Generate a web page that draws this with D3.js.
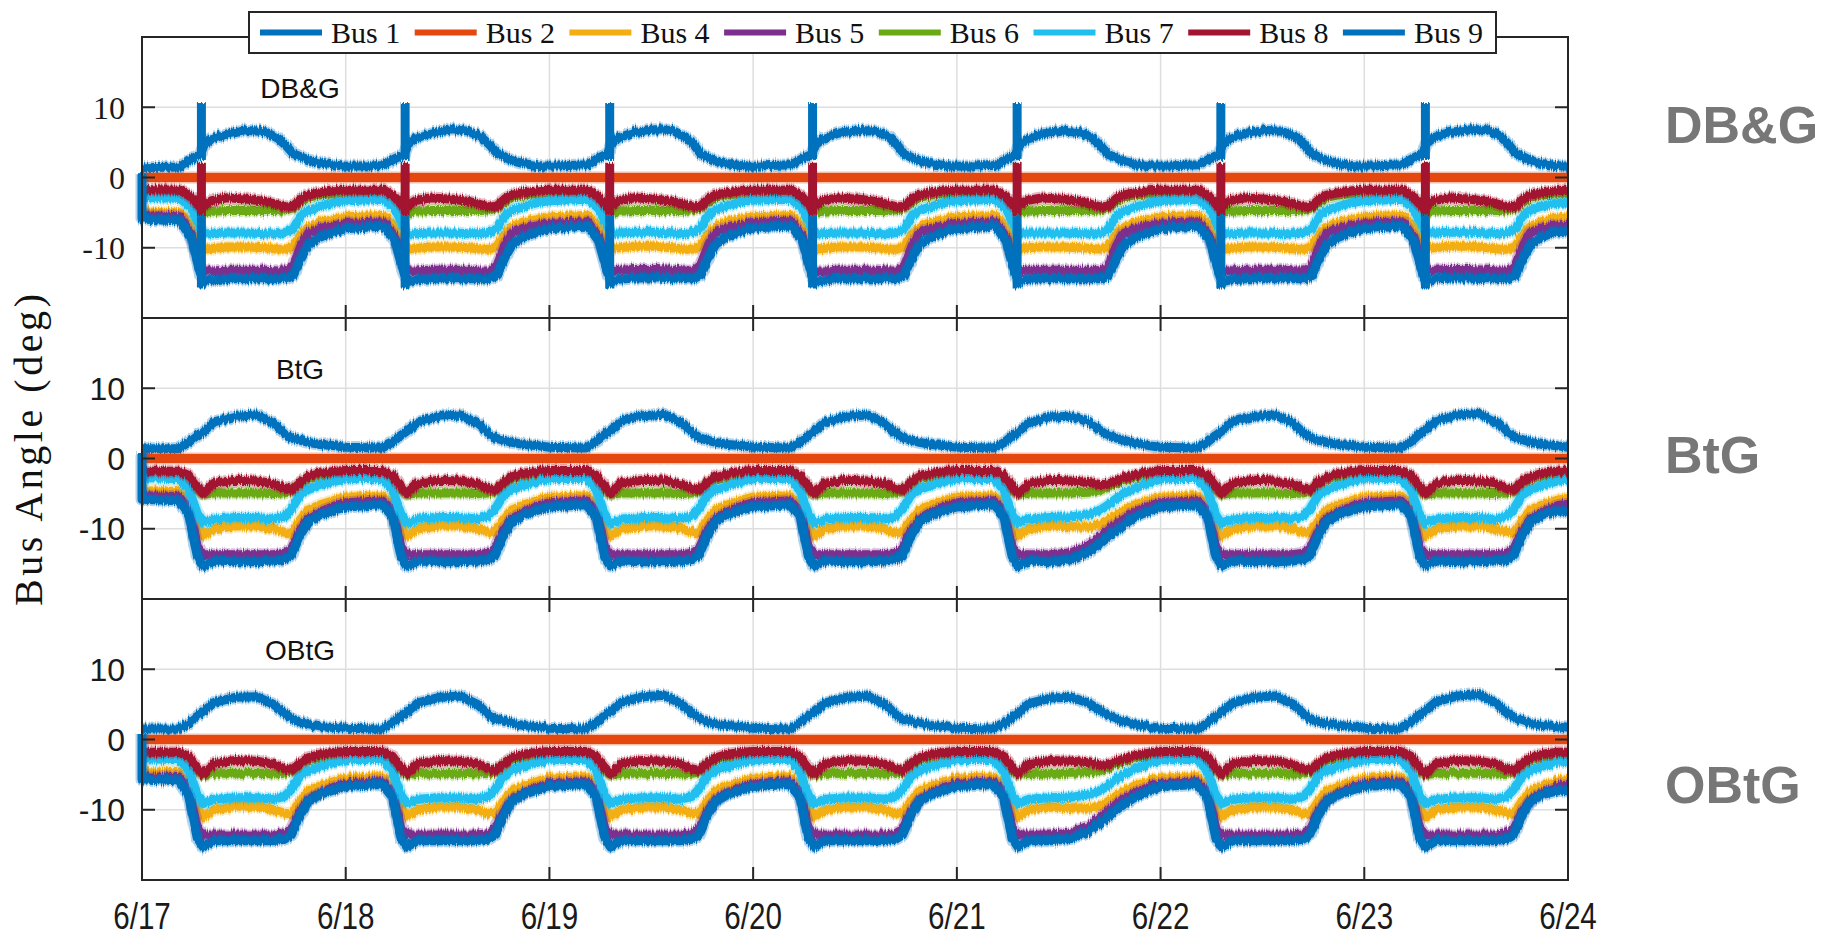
<!DOCTYPE html>
<html>
<head>
<meta charset="utf-8">
<script src="https://cdn.jsdelivr.net/npm/d3@7"></script>
<style>
  html, body { margin: 0; padding: 0; background: #fff; }
  svg { display: block; }
</style>
</head>
<body>
<svg id="chart" width="1835" height="936"></svg>
<script>
// ---- categories, labels, ticks ----
const busNames = ["Bus 1", "Bus 2", "Bus 4", "Bus 5", "Bus 6", "Bus 7", "Bus 8", "Bus 9"];
const panelNames = ["DB&G", "BtG", "OBtG"];
const dayLabels = ["6/17", "6/18", "6/19", "6/20", "6/21", "6/22", "6/23", "6/24"];
const yTickValues = [-10, 0, 10];
const yDomain = [-20, 20];

// Bus 2 is the reference bus: its angle stays at 0 for the whole week
const bus2Hours = [0, 168];
const bus2Angle = [0, 0];

// ---- DB&G : sample times (hour of day) and bus angles (deg), one row per day ----
const dbgClock = [0, 4.5, 5.8, 6.9, 7.3, 8.2, 10, 12.5, 14.5, 16, 17, 17.8, 18.8, 19.6, 20.8, 22.5, 24];
const dbgBus1 = [
  [1.4, 1.5, 2.6, 3.3, 4.6, 5.5, 6.2, 6.7, 6.5, 5.6, 4.5, 3.4, 2.9, 2.5, 2.1, 1.8],
  [1.6, 1.7, 2.7, 3.3, 4.7, 5.6, 6.3, 6.8, 6.6, 5.7, 4.6, 3.5, 2.9, 2.4, 2.0, 1.7],
  [1.6, 1.8, 2.8, 3.4, 4.8, 5.7, 6.4, 6.8, 6.7, 5.8, 4.7, 3.4, 2.8, 2.3, 2.0, 1.7],
  [1.6, 1.8, 2.7, 3.3, 4.6, 5.5, 6.3, 6.7, 6.6, 5.8, 4.6, 3.3, 2.8, 2.4, 2.0, 1.7],
  [1.6, 1.7, 2.6, 3.2, 4.5, 5.4, 6.2, 6.6, 6.4, 5.6, 4.4, 3.3, 2.8, 2.3, 2.0, 1.7],
  [1.6, 1.8, 2.7, 3.3, 4.7, 5.6, 6.3, 6.7, 6.6, 5.7, 4.6, 3.4, 2.8, 2.4, 2.0, 1.7],
  [1.6, 1.8, 2.8, 3.4, 4.8, 5.7, 6.4, 6.8, 6.8, 5.9, 4.7, 3.5, 2.9, 2.4, 2.0, 1.7, 1.6]
];
const dbgBus4 = [
  [-4.9, -5.0, -6.8, -9.6, -10.2, -10.1, -9.9, -9.9, -10.0, -10.2, -10.2, -9.8, -8.0, -7.1, -6.4, -6.0],
  [-5.6, -5.4, -7.0, -9.7, -10.2, -10.1, -9.9, -9.9, -10.0, -10.2, -10.2, -9.8, -8.0, -7.0, -6.4, -6.0],
  [-5.6, -5.4, -7.0, -9.6, -10.1, -10.0, -9.8, -9.8, -10.0, -10.2, -10.2, -9.7, -7.9, -7.0, -6.3, -5.9],
  [-5.6, -5.4, -7.0, -9.7, -10.2, -10.1, -9.9, -9.9, -10.0, -10.2, -10.2, -9.8, -8.0, -7.1, -6.4, -6.0],
  [-5.6, -5.4, -7.0, -9.6, -10.2, -10.0, -9.9, -9.9, -10.0, -10.1, -10.2, -9.8, -8.1, -7.2, -6.5, -6.0],
  [-5.6, -5.4, -7.0, -9.7, -10.2, -10.1, -9.9, -9.9, -10.0, -10.2, -10.2, -9.8, -8.0, -7.1, -6.4, -6.0],
  [-5.6, -5.4, -7.0, -9.6, -10.1, -10.0, -9.8, -9.8, -10.0, -10.2, -10.2, -9.8, -8.0, -7.0, -6.3, -5.8, -5.6]
];
const dbgBus5 = [
  [-5.4, -5.6, -8.2, -12.8, -13.3, -13.3, -13.2, -13.2, -13.2, -13.3, -13.3, -12.6, -9.5, -7.9, -7.3, -6.9],
  [-6.5, -6.3, -8.5, -12.8, -13.3, -13.3, -13.2, -13.2, -13.2, -13.3, -13.3, -12.6, -9.5, -7.9, -7.3, -6.9],
  [-6.5, -6.3, -8.5, -12.7, -13.2, -13.2, -13.1, -13.1, -13.2, -13.3, -13.3, -12.5, -9.4, -7.8, -7.2, -6.8],
  [-6.4, -6.2, -8.4, -12.8, -13.3, -13.3, -13.2, -13.2, -13.2, -13.3, -13.3, -12.6, -9.5, -7.9, -7.3, -6.9],
  [-6.5, -6.3, -8.5, -12.7, -13.3, -13.2, -13.2, -13.2, -13.2, -13.2, -13.3, -12.7, -9.7, -8.0, -7.4, -6.9],
  [-6.5, -6.3, -8.5, -12.8, -13.3, -13.3, -13.2, -13.2, -13.2, -13.3, -13.3, -12.6, -9.5, -7.9, -7.3, -6.9],
  [-6.5, -6.3, -8.5, -12.7, -13.2, -13.2, -13.1, -13.1, -13.2, -13.3, -13.3, -12.6, -9.5, -7.8, -7.2, -6.9, -6.8]
];
const dbgBus6 = [
  [-2.2, -2.3, -3.5, -4.8, -4.9, -4.8, -4.7, -4.7, -4.7, -4.7, -4.6, -4.3, -3.4, -2.8, -2.5, -2.3],
  [-2.4, -2.4, -3.5, -4.8, -4.9, -4.8, -4.7, -4.7, -4.7, -4.7, -4.6, -4.3, -3.4, -2.8, -2.5, -2.3],
  [-2.4, -2.4, -3.5, -4.8, -4.9, -4.8, -4.7, -4.7, -4.7, -4.7, -4.6, -4.3, -3.4, -2.8, -2.5, -2.3],
  [-2.4, -2.4, -3.5, -4.8, -4.9, -4.8, -4.7, -4.7, -4.7, -4.7, -4.6, -4.3, -3.4, -2.8, -2.5, -2.3],
  [-2.4, -2.4, -3.5, -4.8, -4.9, -4.8, -4.7, -4.7, -4.7, -4.7, -4.6, -4.3, -3.4, -2.8, -2.5, -2.3],
  [-2.4, -2.4, -3.5, -4.8, -4.9, -4.8, -4.7, -4.7, -4.7, -4.7, -4.6, -4.3, -3.4, -2.8, -2.5, -2.3],
  [-2.4, -2.4, -3.5, -4.8, -4.9, -4.8, -4.7, -4.7, -4.7, -4.7, -4.6, -4.3, -3.4, -2.8, -2.5, -2.3, -2.3]
];
const dbgBus7 = [
  [-2.8, -3.0, -4.3, -7.2, -8.0, -8.0, -7.9, -7.9, -8.0, -8.0, -7.8, -7.3, -5.3, -4.7, -4.2, -3.6],
  [-3.3, -3.1, -4.4, -7.2, -8.0, -8.0, -7.9, -7.9, -8.0, -8.0, -7.8, -7.3, -5.3, -4.7, -4.2, -3.6],
  [-3.3, -3.1, -4.4, -7.1, -7.9, -7.9, -7.8, -7.8, -7.9, -8.0, -7.8, -7.2, -5.2, -4.6, -4.1, -3.5],
  [-3.2, -3.1, -4.4, -7.2, -8.0, -8.0, -7.9, -7.9, -8.0, -8.0, -7.8, -7.3, -5.3, -4.7, -4.2, -3.6],
  [-3.3, -3.1, -4.4, -7.1, -8.0, -7.9, -7.9, -7.9, -8.0, -8.0, -7.9, -7.4, -5.5, -4.8, -4.3, -3.7],
  [-3.3, -3.1, -4.4, -7.2, -8.0, -8.0, -7.9, -7.9, -8.0, -8.0, -7.8, -7.3, -5.3, -4.7, -4.2, -3.6],
  [-3.3, -3.1, -4.4, -7.1, -7.9, -7.9, -7.8, -7.8, -7.9, -8.0, -7.8, -7.3, -5.3, -4.6, -4.1, -3.7, -3.6]
];
const dbgBus8 = [
  [-1.7, -1.8, -2.8, -4.3, -4.0, -3.3, -2.9, -3.1, -3.4, -3.9, -4.2, -4.1, -3.0, -2.5, -2.2, -1.9],
  [-1.8, -1.8, -2.8, -4.3, -4.0, -3.3, -2.9, -3.1, -3.4, -3.9, -4.2, -4.1, -3.0, -2.5, -2.2, -1.9],
  [-1.8, -1.8, -2.8, -4.3, -4.0, -3.3, -2.9, -3.1, -3.4, -3.9, -4.2, -4.1, -3.0, -2.5, -2.2, -1.9],
  [-1.8, -1.8, -2.8, -4.3, -4.0, -3.3, -2.9, -3.1, -3.4, -3.9, -4.2, -4.1, -3.0, -2.5, -2.2, -1.9],
  [-1.8, -1.8, -2.8, -4.3, -4.0, -3.3, -2.9, -3.1, -3.4, -3.9, -4.2, -4.1, -3.0, -2.5, -2.2, -1.9],
  [-1.8, -1.8, -2.8, -4.3, -4.0, -3.3, -2.9, -3.1, -3.4, -3.9, -4.2, -4.1, -3.0, -2.5, -2.2, -1.9],
  [-1.8, -1.8, -2.8, -4.3, -4.0, -3.3, -2.9, -3.1, -3.4, -3.9, -4.2, -4.1, -3.0, -2.5, -2.2, -1.9, -1.8]
];
const dbgBus9 = [
  [-5.9, -6.2, -8.6, -13.8, -14.8, -14.6, -14.4, -14.4, -14.4, -14.4, -14.4, -14.0, -11.3, -9.6, -8.6, -7.8],
  [-7.3, -6.9, -9.0, -13.9, -14.8, -14.6, -14.4, -14.4, -14.4, -14.4, -14.4, -14.0, -11.3, -9.6, -8.6, -7.8],
  [-7.3, -6.9, -9.0, -13.8, -14.7, -14.5, -14.3, -14.3, -14.4, -14.4, -14.4, -13.9, -11.2, -9.5, -8.5, -7.7],
  [-7.2, -6.9, -9.0, -13.9, -14.8, -14.6, -14.4, -14.4, -14.4, -14.4, -14.4, -14.0, -11.3, -9.6, -8.6, -7.8],
  [-7.3, -6.9, -9.0, -13.8, -14.8, -14.5, -14.4, -14.4, -14.4, -14.4, -14.4, -14.1, -11.5, -9.8, -8.7, -7.9],
  [-7.3, -6.9, -9.0, -13.9, -14.8, -14.6, -14.4, -14.4, -14.4, -14.4, -14.4, -14.0, -11.3, -9.6, -8.6, -7.8],
  [-7.3, -6.9, -9.0, -13.8, -14.7, -14.5, -14.3, -14.3, -14.4, -14.4, -14.4, -14.0, -11.3, -9.6, -8.5, -7.8, -7.6]
];
// angle at the very first instant (before the first row value)
const dbgStart = [1.4, 0, -4.9, -5.4, -2.2, -2.8, -1.7, 0.6];
// daily switching transients: hour of the week and [from, to] angle
const dbgSpikeHours = [7.0, 31.0, 55.1, 79.0, 103.1, 127.1, 151.2];
const dbgSpikeBus1 = [[2.5, 10.6], [2.5, 10.6], [2.5, 10.6], [2.5, 10.6], [2.5, 10.6], [2.5, 10.6], [2.5, 10.6]];
const dbgSpikeBus8 = [[2.1, -5.4], [2.1, -5.4], [2.1, -5.4], [2.1, -5.4], [2.1, -5.4], [2.1, -5.4], [2.1, -5.4]];
const dbgSpikeBus9 = [[-5.4, -15.8], [-5.4, -15.8], [-5.4, -15.8], [-5.4, -15.8], [-5.4, -15.8], [-5.4, -15.8], [-5.4, -15.8]];

// ---- BtG ----
const btgClock = [0, 4.3, 5.5, 6.5, 7.2, 8.5, 11, 13.5, 15.5, 16.8, 17.6, 18.6, 19.6, 21, 22.8, 24];
const btgBus1 = [
  [1.4, 1.4, 2.3, 3.3, 3.8, 5.2, 6.0, 6.2, 5.0, 3.6, 2.9, 2.6, 2.3, 2.0, 1.8],
  [1.6, 1.5, 2.3, 3.3, 3.9, 5.2, 6.0, 6.2, 5.0, 3.6, 2.9, 2.6, 2.3, 2.0, 1.8],
  [1.6, 1.5, 2.4, 3.4, 4.0, 5.3, 6.1, 6.3, 5.1, 3.7, 3.0, 2.6, 2.3, 2.0, 1.8],
  [1.6, 1.5, 2.3, 3.3, 3.9, 5.2, 6.0, 6.2, 5.0, 3.6, 2.9, 2.6, 2.3, 2.0, 1.8],
  [1.6, 1.5, 2.2, 3.2, 3.8, 5.1, 5.9, 6.0, 5.2, 4.2, 3.5, 3.0, 2.6, 2.2, 1.8],
  [1.6, 1.5, 2.3, 3.3, 3.9, 5.2, 6.0, 6.2, 5.1, 3.7, 3.0, 2.6, 2.3, 2.0, 1.8],
  [1.6, 1.5, 2.4, 3.5, 4.1, 5.4, 6.2, 6.4, 5.2, 3.8, 3.1, 2.7, 2.3, 2.0, 1.8, 1.6]
];
const btgBus4 = [
  [-4.6, -4.7, -6.2, -9.8, -11.0, -10.0, -9.6, -9.6, -10.0, -10.5, -10.6, -8.8, -7.3, -6.6, -5.9],
  [-5.5, -5.3, -6.6, -9.9, -11.0, -10.0, -9.6, -9.6, -10.0, -10.5, -10.6, -8.8, -7.3, -6.6, -5.9],
  [-5.5, -5.3, -6.6, -9.9, -11.0, -10.0, -9.6, -9.6, -10.0, -10.5, -10.6, -8.8, -7.3, -6.6, -5.9],
  [-5.5, -5.3, -6.6, -9.9, -11.0, -10.0, -9.6, -9.6, -10.0, -10.5, -10.6, -8.8, -7.3, -6.6, -5.9],
  [-5.5, -5.3, -6.6, -9.9, -11.0, -10.0, -9.6, -9.7, -9.8, -9.5, -9.0, -8.2, -7.4, -6.6, -5.9],
  [-5.5, -5.3, -6.6, -9.9, -11.0, -10.0, -9.6, -9.6, -10.0, -10.5, -10.6, -8.8, -7.3, -6.6, -5.9],
  [-5.5, -5.3, -6.6, -9.9, -11.0, -10.0, -9.6, -9.6, -10.0, -10.5, -10.6, -8.8, -7.3, -6.6, -5.9, -5.7]
];
const btgBus5 = [
  [-5.3, -5.4, -7.0, -12.5, -13.7, -13.7, -13.7, -13.7, -13.7, -13.5, -12.9, -10.3, -8.6, -7.6, -6.7],
  [-6.3, -6.0, -7.4, -12.6, -13.7, -13.7, -13.7, -13.7, -13.7, -13.5, -12.9, -10.3, -8.6, -7.6, -6.7],
  [-6.3, -6.0, -7.4, -12.6, -13.7, -13.7, -13.7, -13.7, -13.7, -13.5, -12.9, -10.3, -8.6, -7.6, -6.7],
  [-6.3, -6.0, -7.4, -12.6, -13.7, -13.7, -13.7, -13.7, -13.7, -13.5, -12.9, -10.3, -8.6, -7.6, -6.7],
  [-6.3, -6.0, -7.4, -12.6, -13.7, -13.7, -13.7, -13.4, -12.4, -11.3, -10.5, -9.5, -8.6, -7.6, -6.7],
  [-6.3, -6.0, -7.4, -12.6, -13.7, -13.7, -13.7, -13.7, -13.7, -13.5, -12.9, -10.3, -8.6, -7.6, -6.7],
  [-6.3, -6.0, -7.4, -12.6, -13.7, -13.7, -13.7, -13.7, -13.7, -13.5, -12.9, -10.3, -8.6, -7.6, -6.7, -6.5]
];
const btgBus6 = [
  [-2.3, -2.3, -3.2, -4.4, -5.1, -4.9, -4.9, -4.9, -5.0, -4.9, -4.7, -3.6, -2.9, -2.5, -2.2],
  [-2.2, -2.2, -3.2, -4.4, -5.1, -4.9, -4.9, -4.9, -5.0, -4.9, -4.7, -3.6, -2.9, -2.5, -2.2],
  [-2.2, -2.2, -3.2, -4.4, -5.1, -4.9, -4.9, -4.9, -5.0, -4.9, -4.7, -3.6, -2.9, -2.5, -2.2],
  [-2.2, -2.2, -3.2, -4.4, -5.1, -4.9, -4.9, -4.9, -5.0, -4.9, -4.7, -3.6, -2.9, -2.5, -2.2],
  [-2.2, -2.2, -3.2, -4.4, -5.1, -4.9, -4.9, -4.9, -4.8, -4.5, -4.2, -3.6, -3.1, -2.6, -2.3],
  [-2.2, -2.2, -3.2, -4.4, -5.1, -4.9, -4.9, -4.9, -5.0, -4.9, -4.7, -3.6, -2.9, -2.5, -2.2],
  [-2.2, -2.2, -3.2, -4.4, -5.1, -4.9, -4.9, -4.9, -5.0, -4.9, -4.7, -3.6, -2.9, -2.5, -2.2, -2.2]
];
const btgBus7 = [
  [-2.7, -2.9, -4.3, -7.8, -9.2, -8.6, -8.4, -8.4, -8.6, -8.2, -7.2, -5.2, -4.4, -3.8, -3.2],
  [-2.9, -2.8, -4.4, -7.9, -9.2, -8.6, -8.4, -8.4, -8.6, -8.2, -7.2, -5.2, -4.4, -3.8, -3.2],
  [-2.9, -2.8, -4.4, -7.9, -9.2, -8.6, -8.4, -8.4, -8.6, -8.2, -7.2, -5.2, -4.4, -3.8, -3.2],
  [-2.9, -2.8, -4.4, -7.9, -9.2, -8.6, -8.4, -8.4, -8.6, -8.2, -7.2, -5.2, -4.4, -3.8, -3.2],
  [-2.9, -2.8, -4.4, -7.9, -9.2, -8.6, -8.4, -8.3, -8.0, -7.4, -6.8, -5.9, -5.0, -4.2, -3.4],
  [-2.9, -2.8, -4.4, -7.9, -9.2, -8.6, -8.4, -8.4, -8.6, -8.2, -7.2, -5.2, -4.4, -3.8, -3.2],
  [-2.9, -2.8, -4.4, -7.9, -9.2, -8.6, -8.4, -8.4, -8.6, -8.2, -7.2, -5.2, -4.4, -3.8, -3.2, -3.1]
];
const btgBus8 = [
  [-1.8, -1.8, -2.4, -4.0, -5.0, -3.5, -3.1, -3.2, -3.6, -4.3, -4.5, -3.4, -2.6, -2.1, -1.8],
  [-1.7, -1.7, -2.4, -4.0, -5.0, -3.5, -3.1, -3.2, -3.6, -4.3, -4.5, -3.4, -2.6, -2.1, -1.8],
  [-1.7, -1.7, -2.4, -4.0, -5.0, -3.5, -3.1, -3.2, -3.6, -4.3, -4.5, -3.4, -2.6, -2.1, -1.8],
  [-1.7, -1.7, -2.4, -4.0, -5.0, -3.5, -3.1, -3.2, -3.6, -4.3, -4.5, -3.4, -2.6, -2.1, -1.8],
  [-1.7, -1.7, -2.4, -4.0, -5.0, -3.5, -3.1, -3.2, -3.4, -3.7, -3.7, -3.3, -2.8, -2.3, -1.9],
  [-1.7, -1.7, -2.4, -4.0, -5.0, -3.5, -3.1, -3.2, -3.6, -4.3, -4.5, -3.4, -2.6, -2.1, -1.8],
  [-1.7, -1.7, -2.4, -4.0, -5.0, -3.5, -3.1, -3.2, -3.6, -4.3, -4.5, -3.4, -2.6, -2.1, -1.8, -1.8]
];
const btgBus9 = [
  [-5.8, -6.0, -8.0, -13.8, -15.3, -14.6, -14.7, -14.7, -14.6, -14.4, -13.8, -11.0, -9.0, -8.0, -7.3],
  [-6.9, -6.6, -8.2, -13.9, -15.3, -14.6, -14.7, -14.7, -14.6, -14.4, -13.8, -11.0, -9.0, -8.0, -7.3],
  [-6.9, -6.6, -8.2, -13.9, -15.3, -14.6, -14.7, -14.7, -14.6, -14.4, -13.8, -11.0, -9.0, -8.0, -7.3],
  [-6.9, -6.6, -8.2, -13.9, -15.3, -14.6, -14.7, -14.7, -14.6, -14.4, -13.8, -11.0, -9.0, -8.0, -7.3],
  [-6.9, -6.6, -8.2, -13.9, -15.3, -14.6, -14.7, -14.4, -13.3, -12.2, -11.4, -10.4, -9.5, -8.3, -7.4],
  [-6.9, -6.6, -8.2, -13.9, -15.3, -14.6, -14.7, -14.7, -14.6, -14.4, -13.8, -11.0, -9.0, -8.0, -7.3],
  [-6.9, -6.6, -8.2, -13.9, -15.3, -14.6, -14.7, -14.7, -14.6, -14.4, -13.8, -11.0, -9.0, -8.0, -7.5, -7.5]
];
const btgStart = [1.4, 0, -4.6, -5.3, -2.3, -2.7, -1.8, 0.8];

// ---- OBtG ----
const obtgClock = [0, 4.3, 5.5, 6.5, 7.2, 8.5, 11, 13.5, 15.5, 16.8, 17.6, 18.6, 19.6, 21, 22.8, 24];
const obtgBus1 = [
  [1.5, 1.5, 2.3, 3.3, 3.9, 5.3, 6.0, 6.1, 5.0, 3.7, 3.0, 2.5, 2.1, 1.8, 1.7],
  [1.6, 1.5, 2.3, 3.3, 3.9, 5.2, 6.0, 6.2, 5.0, 3.6, 2.9, 2.6, 2.3, 2.0, 1.8],
  [1.6, 1.5, 2.4, 3.4, 4.0, 5.3, 6.1, 6.3, 5.1, 3.7, 3.0, 2.6, 2.3, 2.0, 1.8],
  [1.6, 1.5, 2.3, 3.3, 3.9, 5.2, 6.0, 6.2, 5.0, 3.6, 2.9, 2.6, 2.3, 2.0, 1.8],
  [1.6, 1.5, 2.2, 3.2, 3.8, 5.1, 5.9, 6.0, 5.2, 4.2, 3.5, 3.0, 2.6, 2.2, 1.8],
  [1.6, 1.5, 2.3, 3.3, 3.9, 5.2, 6.0, 6.2, 5.1, 3.7, 3.0, 2.6, 2.3, 2.0, 1.8],
  [1.6, 1.5, 2.4, 3.5, 4.1, 5.4, 6.2, 6.4, 5.2, 3.8, 3.1, 2.7, 2.3, 2.0, 1.8, 1.6]
];
const obtgBus4 = [
  [-4.6, -4.7, -6.2, -9.8, -11.0, -10.0, -9.5, -9.5, -10.0, -10.5, -10.6, -8.8, -7.3, -6.6, -5.9],
  [-5.5, -5.3, -6.6, -9.9, -11.0, -10.0, -9.6, -9.6, -10.0, -10.5, -10.6, -8.8, -7.3, -6.6, -5.9],
  [-5.5, -5.3, -6.6, -9.9, -11.0, -10.0, -9.6, -9.6, -10.0, -10.5, -10.6, -8.8, -7.3, -6.6, -5.9],
  [-5.5, -5.3, -6.6, -9.9, -11.0, -10.0, -9.6, -9.6, -10.0, -10.5, -10.6, -8.8, -7.3, -6.6, -5.9],
  [-5.5, -5.3, -6.6, -9.9, -11.0, -10.0, -9.6, -9.7, -9.8, -9.5, -9.0, -8.2, -7.4, -6.6, -5.9],
  [-5.5, -5.3, -6.6, -9.9, -11.0, -10.0, -9.6, -9.6, -10.0, -10.5, -10.6, -8.8, -7.3, -6.6, -5.9],
  [-5.5, -5.3, -6.6, -9.9, -11.0, -10.0, -9.6, -9.6, -10.0, -10.5, -10.6, -8.8, -7.3, -6.6, -5.9, -5.7]
];
const obtgBus5 = [
  [-5.3, -5.4, -7.0, -12.5, -13.6, -13.6, -13.6, -13.6, -13.6, -13.4, -12.8, -10.3, -8.6, -7.6, -6.7],
  [-6.3, -6.0, -7.4, -12.6, -13.6, -13.6, -13.6, -13.6, -13.6, -13.4, -12.8, -10.3, -8.6, -7.6, -6.7],
  [-6.3, -6.0, -7.4, -12.6, -13.6, -13.6, -13.6, -13.6, -13.6, -13.4, -12.8, -10.3, -8.6, -7.6, -6.7],
  [-6.3, -6.0, -7.4, -12.6, -13.6, -13.6, -13.6, -13.6, -13.6, -13.4, -12.8, -10.3, -8.6, -7.6, -6.7],
  [-6.3, -6.0, -7.4, -12.6, -13.6, -13.6, -13.6, -13.3, -12.3, -11.2, -10.4, -9.4, -8.5, -7.6, -6.7],
  [-6.3, -6.0, -7.4, -12.6, -13.6, -13.6, -13.6, -13.6, -13.6, -13.4, -12.8, -10.3, -8.6, -7.6, -6.7],
  [-6.3, -6.0, -7.4, -12.6, -13.6, -13.6, -13.6, -13.6, -13.6, -13.4, -12.8, -10.3, -8.6, -7.6, -6.7, -6.5]
];
const obtgBus6 = [
  [-2.3, -2.3, -3.2, -4.4, -5.0, -4.8, -4.8, -4.8, -4.9, -4.8, -4.6, -3.6, -2.9, -2.5, -2.2],
  [-2.2, -2.2, -3.2, -4.4, -5.0, -4.8, -4.8, -4.8, -4.9, -4.8, -4.6, -3.6, -2.9, -2.5, -2.2],
  [-2.2, -2.2, -3.2, -4.4, -5.0, -4.8, -4.8, -4.8, -4.9, -4.8, -4.6, -3.6, -2.9, -2.5, -2.2],
  [-2.2, -2.2, -3.2, -4.4, -5.0, -4.8, -4.8, -4.8, -4.9, -4.8, -4.6, -3.6, -2.9, -2.5, -2.2],
  [-2.2, -2.2, -3.2, -4.4, -5.0, -4.8, -4.8, -4.8, -4.7, -4.4, -4.1, -3.6, -3.1, -2.6, -2.3],
  [-2.2, -2.2, -3.2, -4.4, -5.0, -4.8, -4.8, -4.8, -4.9, -4.8, -4.6, -3.6, -2.9, -2.5, -2.2],
  [-2.2, -2.2, -3.2, -4.4, -5.0, -4.8, -4.8, -4.8, -4.9, -4.8, -4.6, -3.6, -2.9, -2.5, -2.2, -2.2]
];
const obtgBus7 = [
  [-2.7, -2.9, -4.3, -7.8, -9.1, -8.5, -8.3, -8.3, -8.5, -8.1, -7.1, -5.2, -4.4, -3.8, -3.2],
  [-2.9, -2.8, -4.4, -7.9, -9.1, -8.5, -8.3, -8.3, -8.5, -8.1, -7.1, -5.2, -4.4, -3.8, -3.2],
  [-2.9, -2.8, -4.4, -7.9, -9.1, -8.5, -8.3, -8.3, -8.5, -8.1, -7.1, -5.2, -4.4, -3.8, -3.2],
  [-2.9, -2.8, -4.4, -7.9, -9.1, -8.5, -8.3, -8.3, -8.5, -8.1, -7.1, -5.2, -4.4, -3.8, -3.2],
  [-2.9, -2.8, -4.4, -7.9, -9.1, -8.5, -8.3, -8.2, -7.9, -7.3, -6.7, -5.8, -5.0, -4.2, -3.4],
  [-2.9, -2.8, -4.4, -7.9, -9.1, -8.5, -8.3, -8.3, -8.5, -8.1, -7.1, -5.2, -4.4, -3.8, -3.2],
  [-2.9, -2.8, -4.4, -7.9, -9.1, -8.5, -8.3, -8.3, -8.5, -8.1, -7.1, -5.2, -4.4, -3.8, -3.2, -3.1]
];
const obtgBus8 = [
  [-1.8, -1.8, -2.4, -4.0, -4.9, -3.4, -3.0, -3.1, -3.5, -4.2, -4.4, -3.4, -2.6, -2.1, -1.8],
  [-1.7, -1.7, -2.4, -4.0, -4.9, -3.4, -3.0, -3.1, -3.5, -4.2, -4.4, -3.4, -2.6, -2.1, -1.8],
  [-1.7, -1.7, -2.4, -4.0, -4.9, -3.4, -3.0, -3.1, -3.5, -4.2, -4.4, -3.4, -2.6, -2.1, -1.8],
  [-1.7, -1.7, -2.4, -4.0, -4.9, -3.4, -3.0, -3.1, -3.5, -4.2, -4.4, -3.4, -2.6, -2.1, -1.8],
  [-1.7, -1.7, -2.4, -4.0, -4.9, -3.4, -3.0, -3.1, -3.3, -3.6, -3.6, -3.2, -2.8, -2.3, -1.9],
  [-1.7, -1.7, -2.4, -4.0, -4.9, -3.4, -3.0, -3.1, -3.5, -4.2, -4.4, -3.4, -2.6, -2.1, -1.8],
  [-1.7, -1.7, -2.4, -4.0, -4.9, -3.4, -3.0, -3.1, -3.5, -4.2, -4.4, -3.4, -2.6, -2.1, -1.8, -1.8]
];
const obtgBus9 = [
  [-5.6, -5.9, -8.0, -14.0, -15.3, -14.4, -14.4, -14.4, -14.4, -14.2, -13.6, -10.8, -8.8, -7.8, -7.1],
  [-6.7, -6.4, -8.2, -14.0, -15.3, -14.4, -14.4, -14.4, -14.4, -14.2, -13.6, -10.8, -8.8, -7.8, -7.1],
  [-6.7, -6.4, -8.2, -14.0, -15.3, -14.4, -14.4, -14.4, -14.4, -14.2, -13.6, -10.8, -8.8, -7.8, -7.1],
  [-6.7, -6.4, -8.2, -14.0, -15.3, -14.4, -14.4, -14.4, -14.4, -14.2, -13.6, -10.8, -8.8, -7.8, -7.1],
  [-6.7, -6.4, -8.2, -14.0, -15.3, -14.4, -14.4, -14.1, -13.1, -12.0, -11.2, -10.2, -9.3, -8.2, -7.3],
  [-6.7, -6.4, -8.2, -14.0, -15.3, -14.4, -14.4, -14.4, -14.4, -14.2, -13.6, -10.8, -8.8, -7.8, -7.1],
  [-6.7, -6.4, -8.2, -14.0, -15.3, -14.4, -14.4, -14.4, -14.4, -14.2, -13.6, -10.8, -8.8, -7.8, -7.3, -7.3]
];
const obtgStart = [1.5, 0, -4.6, -5.3, -2.3, -2.7, -1.8, 0.8];

// ---- styles ----
const busColors = ["#0072BD", "#E4480E", "#F2AE12", "#7E2F8E", "#6AAA14", "#20BFEF", "#A2142F", "#0072BD"];
const axisColor = "#262626";
const gridColor = "#dedede";

// ---- layout ----
const W = 1835, H = 936;
const plotLeft = 142, plotRight = 1568;
const panelTop0 = 37, panelH = 281;
const lineW = 9;

const svg = d3.select("#chart");
const defs = svg.append("defs");
// sample-to-sample noise of the traces: columns of the stroke are shifted up/down only
const jitter = defs.append("filter").attr("id", "jitter")
  .attr("filterUnits", "userSpaceOnUse").attr("x", 0).attr("y", 0).attr("width", W).attr("height", H)
  .attr("color-interpolation-filters", "sRGB");
jitter.append("feTurbulence").attr("type", "fractalNoise").attr("baseFrequency", "0.85 0.02")
  .attr("numOctaves", 1).attr("seed", 4).attr("result", "noise");
jitter.append("feColorMatrix").attr("in", "noise").attr("type", "matrix")
  .attr("values", "0 0 0 0 0.5  0 1 0 0 0  0 0 1 0 0  0 0 0 0 1").attr("result", "ynoise");
jitter.append("feDisplacementMap").attr("in", "SourceGraphic").attr("in2", "ynoise")
  .attr("scale", 8).attr("xChannelSelector", "R").attr("yChannelSelector", "G");

const x = d3.scaleLinear().domain([0, 168]).range([plotLeft, plotRight]);
const dayHours = dayLabels.map((_, i) => i * 24);

function rowsToPoints(clock, rows, start) {
  const pts = [{ h: 0, v: start }];
  rows.forEach((row, d) => row.forEach((v, i) => pts.push({ h: d * 24 + clock[i], v })));
  return pts;
}

const panels = [
  { name: panelNames[0], clock: dbgClock, start: dbgStart,
    rows: [dbgBus1, null, dbgBus4, dbgBus5, dbgBus6, dbgBus7, dbgBus8, dbgBus9],
    spikes: { 0: dbgSpikeBus1, 6: dbgSpikeBus8, 7: dbgSpikeBus9 }, spikeHours: dbgSpikeHours,
    tickFont: "'Liberation Serif', 'Times New Roman', serif" },
  { name: panelNames[1], clock: btgClock, start: btgStart,
    rows: [btgBus1, null, btgBus4, btgBus5, btgBus6, btgBus7, btgBus8, btgBus9],
    spikes: {}, spikeHours: [],
    tickFont: "'Liberation Sans', Arial, sans-serif" },
  { name: panelNames[2], clock: obtgClock, start: obtgStart,
    rows: [obtgBus1, null, obtgBus4, obtgBus5, obtgBus6, obtgBus7, obtgBus8, obtgBus9],
    spikes: {}, spikeHours: [],
    tickFont: "'Liberation Sans', Arial, sans-serif" }
];

const line = d3.line().x(d => x(d.h)).y(d => d.y);

panels.forEach((p, pi) => {
  const top = panelTop0 + pi * panelH;
  const y = d3.scaleLinear().domain(yDomain).range([top + panelH, top]);
  const g = svg.append("g");

  // grid
  g.append("g").selectAll("line").data(dayHours.slice(1, -1)).join("line")
    .attr("x1", d => x(d)).attr("x2", d => x(d)).attr("y1", top).attr("y2", top + panelH)
    .attr("stroke", gridColor).attr("stroke-width", 1.5);
  g.append("g").selectAll("line").data(yTickValues).join("line")
    .attr("x1", plotLeft).attr("x2", plotRight).attr("y1", d => y(d)).attr("y2", d => y(d))
    .attr("stroke", gridColor).attr("stroke-width", 1.5);

  // traces, in legend order so later buses sit on top
  const traces = g.append("g");
  busNames.forEach((name, bi) => {
    const color = busColors[bi];
    if (p.rows[bi] === null) {
      const pts = bus2Hours.map((h, i) => ({ h, y: y(bus2Angle[i]) }));
      traces.append("path").attr("d", line(pts)).attr("fill", "none")
        .attr("stroke", color).attr("stroke-opacity", 0.35).attr("stroke-width", lineW + 3);
      traces.append("path").attr("d", line(pts)).attr("fill", "none")
        .attr("stroke", color).attr("stroke-width", lineW);
      return;
    }
    const pts = rowsToPoints(p.clock, p.rows[bi], p.start[bi]).map(d => ({ h: d.h, y: y(d.v) }));
    const tg = traces.append("g").attr("filter", "url(#jitter)");
    tg.append("path").attr("d", line(pts)).attr("fill", "none")
      .attr("stroke", color).attr("stroke-opacity", 0.3).attr("stroke-width", lineW + 4)
      .attr("stroke-linejoin", "round");
    tg.append("path").attr("d", line(pts)).attr("fill", "none")
      .attr("stroke", color).attr("stroke-width", lineW)
      .attr("stroke-linejoin", "round");
    const sp = p.spikes[bi];
    if (sp) {
      tg.selectAll("path.spike").data(sp).join("path").attr("class", "spike")
        .attr("d", (s, i) => line([{ h: p.spikeHours[i], y: y(s[0]) }, { h: p.spikeHours[i], y: y(s[1]) }]))
        .attr("fill", "none").attr("stroke", color).attr("stroke-width", lineW);
    }
  });

  // box, ticks
  const axes = g.append("g").attr("stroke", axisColor).attr("stroke-width", 2).attr("fill", "none");
  axes.append("rect").attr("x", plotLeft).attr("y", top).attr("width", plotRight - plotLeft).attr("height", panelH);
  const tl = 13;
  yTickValues.forEach(v => {
    axes.append("line").attr("x1", plotLeft).attr("x2", plotLeft + tl).attr("y1", y(v)).attr("y2", y(v));
    axes.append("line").attr("x1", plotRight).attr("x2", plotRight - tl).attr("y1", y(v)).attr("y2", y(v));
  });
  dayHours.slice(1, -1).forEach(h => {
    axes.append("line").attr("x1", x(h)).attr("x2", x(h)).attr("y1", top + panelH).attr("y2", top + panelH - tl);
    axes.append("line").attr("x1", x(h)).attr("x2", x(h)).attr("y1", top).attr("y2", top + tl);
  });

  // y tick labels
  g.append("g").selectAll("text").data(yTickValues).join("text")
    .attr("x", 125).attr("y", d => y(d)).attr("dy", "0.36em")
    .attr("text-anchor", "end").attr("font-family", p.tickFont).attr("font-size", 32)
    .attr("fill", "#1a1a1a").text(d => d);

  // scenario name inside the panel
  g.append("text").attr("x", 300).attr("y", top + 61).attr("text-anchor", "middle")
    .attr("font-family", "'Liberation Sans', Arial, sans-serif").attr("font-size", 28)
    .attr("fill", "#111").text(p.name);
});

// scenario names at the right
const rightLabelY = [143, 473, 803];
svg.append("g").selectAll("text").data(panelNames).join("text")
  .attr("x", 1665).attr("y", (d, i) => rightLabelY[i])
  .attr("font-family", "'Liberation Sans', Arial, sans-serif").attr("font-weight", "bold")
  .attr("font-size", 52).attr("fill", "#777777").text(d => d);

// x tick labels under the bottom panel
svg.append("g").selectAll("text").data(dayLabels).join("text")
  .attr("transform", (d, i) => `translate(${x(dayHours[i])},929) scale(0.8,1)`)
  .attr("text-anchor", "middle").attr("font-family", "'Liberation Sans', Arial, sans-serif")
  .attr("font-size", 37).attr("fill", "#1a1a1a").text(d => d);

// y axis title
svg.append("text").attr("transform", "translate(42,450) rotate(-90)")
  .attr("text-anchor", "middle").attr("font-family", "'Liberation Serif', 'Times New Roman', serif")
  .attr("font-size", 40).attr("textLength", 312).attr("lengthAdjust", "spacing")
  .attr("fill", "#111").text("Bus Angle (deg)");

// legend
const lg = svg.append("g");
lg.append("rect").attr("x", 249).attr("y", 12).attr("width", 1247).attr("height", 41)
  .attr("fill", "#fff").attr("stroke", axisColor).attr("stroke-width", 2);
const items = lg.selectAll("g.item").data(busNames).join("g").attr("class", "item")
  .attr("transform", (d, i) => `translate(${260 + i * 154.7},32.5)`);
items.append("line").attr("x1", 0).attr("x2", 62).attr("y1", 0).attr("y2", 0)
  .attr("stroke", (d, i) => busColors[i]).attr("stroke-width", 6);
items.append("text").attr("x", 71).attr("y", 10)
  .attr("font-family", "'Liberation Serif', 'Times New Roman', serif").attr("font-size", 30)
  .attr("fill", "#111").text(d => d);
</script>
</body>
</html>
